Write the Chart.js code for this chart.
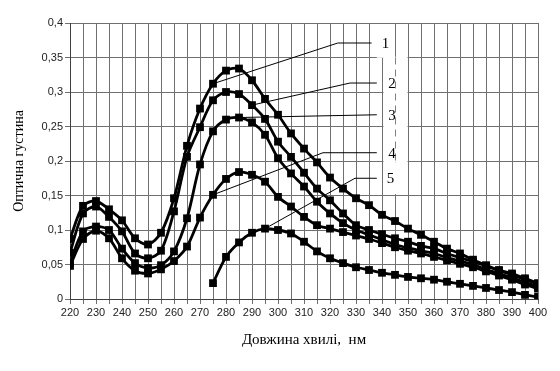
<!DOCTYPE html>
<html>
<head>
<meta charset="utf-8">
<script src="https://cdn.jsdelivr.net/npm/chart.js@4/dist/chart.umd.min.js"></script>
<style>
  html, body { margin: 0; padding: 0; background: #fff; }
  canvas { display: block; }
</style>
</head>
<body>
<canvas id="chart" width="560" height="371"></canvas>
<script>
// wavelengths, nm
const wavelengths = [220, 225, 230, 235, 240, 245, 250, 255, 260, 265, 270, 275, 280, 285, 290, 295, 300, 305, 310, 315, 320, 325, 330, 335, 340, 345, 350, 355, 360, 365, 370, 375, 380, 385, 390, 395, 400];

// optical density for each curve (same order as wavelengths)
const curve1 = [0.087, 0.135, 0.142, 0.130, 0.114, 0.088, 0.079, 0.096, 0.146, 0.222, 0.276, 0.312, 0.331, 0.334, 0.317, 0.290, 0.267, 0.240, 0.218, 0.198, 0.176, 0.160, 0.146, 0.136, 0.122, 0.113, 0.102, 0.093, 0.083, 0.073, 0.066, 0.057, 0.049, 0.042, 0.037, 0.030, 0.023];
const curve2 = [0.067, 0.124, 0.134, 0.119, 0.098, 0.066, 0.059, 0.070, 0.127, 0.206, 0.249, 0.288, 0.300, 0.297, 0.281, 0.261, 0.228, 0.206, 0.183, 0.160, 0.143, 0.124, 0.107, 0.100, 0.094, 0.088, 0.083, 0.077, 0.073, 0.066, 0.060, 0.054, 0.048, 0.041, 0.035, 0.028, 0.022];
const curve3 = [0.052, 0.098, 0.105, 0.100, 0.073, 0.052, 0.045, 0.049, 0.069, 0.117, 0.195, 0.243, 0.260, 0.263, 0.256, 0.238, 0.204, 0.182, 0.163, 0.141, 0.124, 0.110, 0.100, 0.093, 0.086, 0.079, 0.074, 0.070, 0.066, 0.060, 0.055, 0.050, 0.043, 0.037, 0.031, 0.024, 0.018];
const curve4 = [0.048, 0.087, 0.099, 0.088, 0.059, 0.041, 0.037, 0.043, 0.055, 0.076, 0.118, 0.151, 0.174, 0.184, 0.180, 0.170, 0.148, 0.134, 0.119, 0.107, 0.102, 0.097, 0.092, 0.087, 0.081, 0.075, 0.070, 0.066, 0.061, 0.056, 0.051, 0.046, 0.040, 0.034, 0.028, 0.021, 0.015];
// curve 5 starts at 275 nm
const curve5 = [null, null, null, null, null, null, null, null, null, null, null, 0.023, 0.061, 0.082, 0.096, 0.102, 0.100, 0.095, 0.083, 0.069, 0.059, 0.052, 0.046, 0.042, 0.038, 0.035, 0.032, 0.030, 0.028, 0.025, 0.022, 0.019, 0.016, 0.013, 0.010, 0.006, 0.003];

const curveNames = ['1', '2', '3', '4', '5'];
const curves = [curve1, curve2, curve3, curve4, curve5];

// callouts: which point of the curve the leader starts at, elbow and end of the leader (nm, density)
const calloutFrom = [275, 290, 285, 275, 295];
const calloutElbow = [[323, 0.371], [327.7, 0.313], [338, 0.267], [317.3, 0.212], [329.6, 0.175]];
const calloutEnd = [336, 338, 338, 338, 338];
const calloutText = [341.3, 343.8, 343.8, 343.8, 343.3];

const datasets = curves.map((c, i) => ({
  label: curveNames[i],
  data: wavelengths.map((w, j) => ({ x: w, y: c[j] })),
  borderColor: '#000',
  backgroundColor: '#000',
  borderWidth: 2.8,
  pointStyle: 'rect',
  pointRadius: 5.5,
  pointBorderWidth: 0,
  tension: 0.3,
  spanGaps: false
}));

// white label boxes, leader lines and curve numbers
const callouts = {
  id: 'callouts',
  afterDatasetsDraw(chart) {
    const ctx = chart.ctx;
    const xs = chart.scales.x, ys = chart.scales.y;
    const px = v => xs.getPixelForValue(v);
    const py = v => ys.getPixelForValue(v);
    ctx.save();

    // boxes behind the numbers hide the grid
    ctx.fillStyle = '#fff';
    ctx.fillRect(px(338), py(0.4) + 1, px(344) - px(338), py(0.351) - py(0.4));
    ctx.fillRect(px(340) + 1.5, py(0.351), px(350) - px(340) - 2, py(0.198) - py(0.351));
    ctx.fillRect(px(340) + 1.5, py(0.198), px(350) - px(340) - 2.5, py(0.152) - py(0.198));

    // dashed line left over from the box border
    ctx.strokeStyle = '#808080';
    ctx.lineWidth = 1;
    ctx.setLineDash([7, 5]);
    ctx.beginPath();
    ctx.moveTo(Math.round(px(345)) + 0.5, py(0.35));
    ctx.lineTo(Math.round(px(345)) + 0.5, py(0.197));
    ctx.stroke();
    ctx.setLineDash([]);

    // leaders
    ctx.strokeStyle = '#000';
    ctx.lineWidth = 1;
    curves.forEach((c, i) => {
      const j = wavelengths.indexOf(calloutFrom[i]);
      const [ex, ey] = calloutElbow[i];
      ctx.beginPath();
      ctx.moveTo(px(calloutFrom[i]), py(c[j]));
      ctx.lineTo(px(ex), py(ey));
      ctx.lineTo(px(calloutEnd[i]), py(ey));
      ctx.stroke();
    });

    // numbers
    ctx.fillStyle = '#000';
    ctx.font = '15px "Liberation Serif", "Times New Roman", serif';
    ctx.textAlign = 'center';
    ctx.textBaseline = 'middle';
    curves.forEach((c, i) => {
      ctx.fillText(curveNames[i], px(calloutText[i]), py(calloutElbow[i][1]) + 1);
    });
    ctx.restore();
  }
};

new Chart(document.getElementById('chart').getContext('2d'), {
  type: 'line',
  data: { datasets: datasets },
  options: {
    responsive: false,
    animation: false,
    layout: { padding: { top: 23, right: 22, left: 0, bottom: 0 } },
    plugins: {
      legend: { display: false },
      tooltip: { enabled: false }
    },
    scales: {
      x: {
        type: 'linear',
        min: 220,
        max: 400,
        afterFit: s => { s.height = 72; },
        ticks: {
          stepSize: 5,
          autoSkip: false,
          maxRotation: 0,
          padding: 2,
          color: '#222',
          font: { family: '"Liberation Sans", Arial, sans-serif', size: 11 },
          callback: v => (v % 10 === 0 ? v : '')
        },
        grid: { color: '#707070', lineWidth: 1, tickLength: 5 },
        border: { color: '#404040', width: 1 },
        title: {
          display: true,
          text: 'Довжина хвилі,  нм',
          color: '#000',
          font: { family: '"Liberation Serif", "Times New Roman", serif', size: 15 },
          padding: { top: 0, bottom: 22 }
        }
      },
      y: {
        min: 0,
        max: 0.4,
        afterFit: s => { s.width = 70; },
        ticks: {
          stepSize: 0.05,
          padding: 2,
          color: '#222',
          font: { family: '"Liberation Sans", Arial, sans-serif', size: 11 },
          callback: v => String(Math.round(v * 100) / 100).replace('.', ',')
        },
        grid: { color: '#707070', lineWidth: 1, tickLength: 5 },
        border: { color: '#404040', width: 1 },
        title: {
          display: true,
          text: 'Оптична густина',
          color: '#000',
          font: { family: '"Liberation Serif", "Times New Roman", serif', size: 14 },
          padding: { top: 11, bottom: 0 }
        }
      }
    }
  },
  plugins: [callouts]
});
</script>
</body>
</html>
